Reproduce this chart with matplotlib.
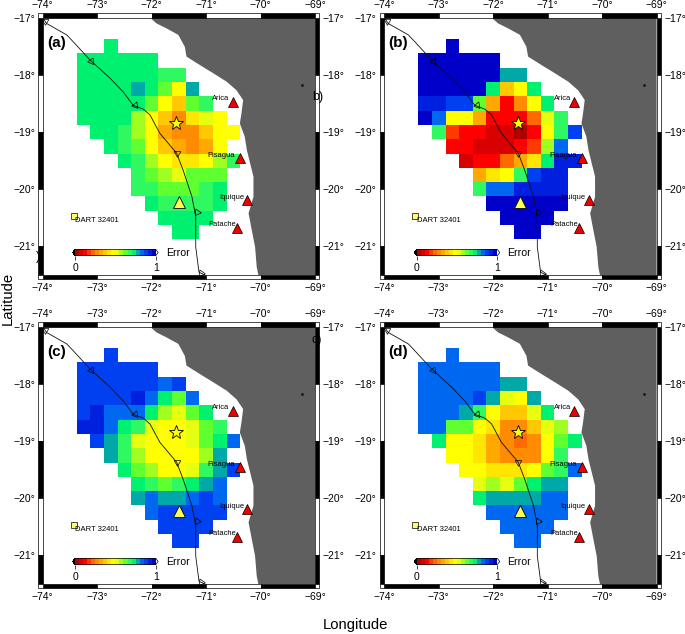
import numpy as np
import matplotlib
matplotlib.use('Agg')
import matplotlib.pyplot as plt
from matplotlib.colors import ListedColormap, BoundaryNorm
from matplotlib.patches import Rectangle, Polygon
from matplotlib.cm import ScalarMappable
from matplotlib.ticker import NullLocator

plt.rcParams['font.family'] = ['Liberation Sans', 'DejaVu Sans']

# first column of each row of the grid
first_col = [2, 0, 0, 0, 0, 0, 1, 2, 3, 4, 4, 5, 6, 7]

error_a = [
    [.72],
    [.72, .72, .72, .72, .72, .72],
    [.72, .72, .72, .72, .72, .72, .67, .67],
    [.72, .72, .72, .72, .77, .72, .62, .47, .77],
    [.72, .72, .72, .72, .72, .62, .47, .37, .62, .67],
    [.72, .72, .72, .72, .57, .47, .37, .27, .42, .52, .47],
    [.72, .72, .67, .57, .47, .32, .27, .27, .37, .47, .47],
    [.72, .67, .62, .47, .37, .32, .27, .32, .47],
    [.72, .67, .57, .47, .42, .42, .47, .57, .67],
    [.67, .62, .57, .52, .62, .62, .62],
    [.67, .67, .62, .62, .62, .67, .72],
    [.72, .67, .67, .67, .67, .72],
    [.72, .72, .72, .72],
    [.72, .72],
]
error_b = [
    [.97],
    [.97, .97, .97, .97, .97, .97],
    [.97, .97, .97, .97, .97, .97, .77, .77],
    [.97, .97, .97, .97, .97, .72, .37, .47, .72],
    [.92, .92, .87, .87, .62, .32, .12, .27, .47, .72],
    [.97, .82, .47, .47, .32, .12, .12, .12, .22, .52, .67],
    [.67, .17, .12, .12, .07, .07, .02, .12, .47, .67, .87],
    [.12, .12, .07, .07, .07, .12, .17, .57, .82],
    [.07, .12, .12, .22, .32, .42, .72, .92, .92],
    [.32, .42, .47, .67, .87, .92, .92],
    [.67, .82, .82, .92, .92, .92, .92],
    [.97, .97, .97, .97, .97, .97],
    [.97, .97, .97, .97],
    [.97, .97],
]
error_c = [
    [.87],
    [.87, .87, .87, .87, .87, .87],
    [.87, .87, .87, .87, .87, .87, .82, .87],
    [.87, .87, .87, .87, .92, .82, .72, .62, .82],
    [.87, .92, .82, .82, .82, .72, .57, .52, .62, .72],
    [.92, .92, .82, .72, .67, .52, .47, .47, .52, .62, .67],
    [.87, .77, .67, .52, .47, .47, .47, .52, .62, .72, .82],
    [.77, .67, .57, .47, .47, .47, .47, .57, .77],
    [.72, .62, .57, .47, .47, .52, .67, .77, .87],
    [.72, .67, .62, .67, .72, .77, .82],
    [.77, .82, .77, .77, .82, .87, .82],
    [.82, .87, .87, .87, .87, .87],
    [.87, .87, .87, .87],
    [.87, .87],
]
error_d = [
    [.82],
    [.82, .82, .82, .82, .82, .82],
    [.82, .82, .82, .82, .82, .82, .77, .77],
    [.82, .82, .82, .82, .87, .77, .52, .47, .77],
    [.82, .82, .82, .77, .67, .47, .37, .37, .52, .72],
    [.82, .82, .62, .62, .47, .42, .27, .27, .37, .52, .57],
    [.72, .47, .47, .42, .32, .27, .22, .27, .47, .62, .72],
    [.47, .47, .42, .32, .27, .27, .27, .47, .67],
    [.47, .47, .42, .42, .42, .47, .62, .67, .82],
    [.52, .57, .52, .62, .72, .77, .77],
    [.72, .77, .77, .77, .77, .82, .82],
    [.82, .82, .82, .82, .82, .82],
    [.82, .82, .82, .82],
    [.82, .82],
]

panels = ['(a)', '(b)', '(c)', '(d)']
grids = [error_a, error_b, error_c, error_d]

level_colors = ['#b00000', '#d80000', '#ff0000', '#ff3a00', '#ff6a00',
                '#ff8c00', '#ffa800', '#ffc800', '#ffe600', '#ffff00',
                '#e6ff10', '#a0ff20', '#60ff30', '#30f860', '#00f070',
                '#00a8a8', '#0068f0', '#0040f0', '#0020e0', '#0000c8']

coast_lon = [-72.03, -71.91, -71.72, -71.51, -71.39, -71.36, -71.11, -70.87, -70.62, -70.44,
             -70.32, -70.35, -70.38, -70.29, -70.25, -70.19, -70.13, -70.13, -70.22, -70.16,
             -70.10, -70.07, -70.04]
coast_lat = [-17.0, -17.10, -17.19, -17.30, -17.51, -17.68, -17.83, -17.97, -18.12, -18.27,
             -18.44, -18.67, -18.85, -19.08, -19.32, -19.55, -19.78, -20.13, -20.42, -20.72,
             -21.01, -21.36, -21.50]

trench_lon = [-74, -73.93, -73.56, -73.44, -73.13, -72.76, -72.52, -72.34, -72.15, -72.03,
              -71.85, -71.54, -71.42, -71.26, -71.19, -71.19, -71.13, -71.02]
trench_lat = [-17, -17.10, -17.30, -17.42, -17.74, -18.06, -18.30, -18.53, -18.60, -18.70,
              -19.02, -19.37, -19.67, -20.13, -20.48, -21.01, -21.45, -21.50]

teeth_lon = [-73.11, -72.30, -71.54, -71.17, -71.10, -73.95]
teeth_lat = [-17.75, -18.53, -19.36, -20.40, -21.47, -17.05]
teeth_ang = [95, 100, 180, 265, 265, 180]

cities = ['Arica', 'Pisagua', 'Iquique', 'Patache']
city_lon = [-70.51, -70.37, -70.24, -70.43]
city_lat = [-18.47, -19.46, -20.18, -20.67]
city_text_lon = [-70.73, -70.72, -70.53, -70.70]
city_text_lat = [-18.42, -19.41, -20.14, -20.62]

star_lon, star_lat = -71.55, -18.84
tri_lon, tri_lat = -71.50, -20.22
dart_lon, dart_lat = -73.43, -20.46

lons = [-74, -73, -72, -71, -70, -69]
lats = [-17, -18, -19, -20, -21]

cmap = ListedColormap(level_colors)
cmap.set_under('black')
cmap.set_over('white')
norm = BoundaryNorm(np.linspace(0, 1, 21), 20)
lon_edges = -73.375 + 0.25 * np.arange(13)
lat_edges = -17.375 - 0.25 * np.arange(15)

W, H = 685, 634
fig = plt.figure(figsize=(W / 100, H / 100), dpi=100)


def frame(ax):
    dx, dy = 0.08, 0.076
    xs = [-74, -73, -72, -71, -70, -69]
    ys = [-17, -18, -19, -20, -21, -21.5]
    for side_y in (-17, -21.5 - dy):
        for i in range(5):
            col = 'black' if i % 2 == 0 else 'white'
            ax.add_patch(Rectangle((xs[i], side_y), xs[i + 1] - xs[i], dy, fc=col, ec='black', lw=0.5, clip_on=False))
    for side_x in (-74 - dx, -69):
        for i in range(5):
            col = 'black' if i % 2 == 0 else 'white'
            ax.add_patch(Rectangle((side_x, ys[i + 1]), dx, ys[i] - ys[i + 1], fc=col, ec='black', lw=0.5, clip_on=False))
    for cx in (-74 - dx, -69):
        for cy in (-17, -21.5 - dy):
            ax.add_patch(Rectangle((cx, cy), dx, dy, fc='white', ec='black', lw=0.5, clip_on=False))


def draw_panel(pos, name, rows):
    x0, y0 = pos
    ax = fig.add_axes([x0 / W, 1 - (y0 + 257.4) / H, 272.3 / W, 257.4 / H])
    ax.set_xlim(-74, -69)
    ax.set_ylim(-21.5, -17)

    land = list(zip(coast_lon, coast_lat)) + [(-69, -21.5), (-69, -17)]
    ax.add_patch(Polygon(land, fc='#5f5f5f', ec='none', zorder=1))
    ax.plot([-69.24], [-18.18], 'o', ms=1.2, color='#222222', zorder=2)

    grid = np.full((14, 12), np.nan)
    for i, row in enumerate(rows):
        grid[i, first_col[i]:first_col[i] + len(row)] = row
    ax.pcolormesh(lon_edges, lat_edges, np.ma.masked_invalid(grid), cmap=cmap, norm=norm, zorder=2)

    ax.plot(trench_lon, trench_lat, color='#111111', lw=0.6, zorder=3)
    for lo, la, ang in zip(teeth_lon, teeth_lat, teeth_ang):
        ax.plot([lo], [la], marker=(3, 0, ang), ms=5.5, mfc='none', mec='black', mew=0.5, zorder=3)

    ax.plot(city_lon, city_lat, '^', ms=7.2, mfc='#ee0000', mec='black', mew=0.5, ls='none', zorder=4)
    for c, lo, la in zip(cities, city_text_lon, city_text_lat):
        ax.text(lo, la, c, fontsize=5.4, ha='center', va='center', zorder=5)
    ax.plot([tri_lon], [tri_lat], '^', ms=8.6, mfc='#ffff55', mec='black', mew=0.6, zorder=4)
    ax.plot([star_lon], [star_lat], '*', ms=10.5, mfc='#ffff00', mec='black', mew=0.6, zorder=4)
    ax.plot([dart_lon], [dart_lat], 's', ms=4.5, mfc='#ffff66', mec='black', mew=0.5, zorder=4)
    ax.text(dart_lon + 0.03, dart_lat - 0.08, 'DART 32401', fontsize=5.5, va='center', zorder=5)
    ax.text(-73.74, -17.45, name, fontsize=11, fontweight='bold', ha='center', va='center', zorder=5)

    ax.set_xticks(lons)
    ax.set_yticks(lats)
    ax.set_xticklabels(['\u2212%d\u00b0' % abs(v) for v in lons])
    ax.set_yticklabels(['\u2212%d\u00b0' % abs(v) for v in lats])
    ax.tick_params(length=0, labelsize=7.5, pad=5.5, top=True, right=True, labeltop=True, labelright=True)
    for s in ax.spines.values():
        s.set_visible(False)
    frame(ax)

    cax = ax.inset_axes([-73.45, -21.16, 1.57, 0.11], transform=ax.transData, zorder=6)
    cb = fig.colorbar(ScalarMappable(norm=norm, cmap=cmap), cax=cax, orientation='horizontal',
                      extend='both', extendfrac=0.03, ticks=[0, 1], spacing='proportional', drawedges=False)
    cb.outline.set_linewidth(0.5)
    cb.ax.set_xticks([0, 1], labels=['0', '1'], minor=False)
    cb.ax.xaxis.set_minor_locator(NullLocator())
    cb.ax.tick_params(labelsize=7.5, length=3, width=0.5, pad=2)
    ax.text(-71.74, -21.11, 'Error', fontsize=7.6, va='center', zorder=6)


draw_panel((42.7, 17.7), panels[0], grids[0])
draw_panel((384.3, 17.7), panels[1], grids[1])
draw_panel((42.7, 326.7), panels[2], grids[2])
draw_panel((384.3, 326.7), panels[3], grids[3])

fig.text(355 / W, 1 - 625 / H, 'Longitude', fontsize=10.7, ha='center', va='center')
fig.text(8 / W, 1 - 298 / H, 'Latitude', fontsize=10.7, rotation=90, ha='center', va='center')
fig.text(318 / W, 1 - 97 / H, 'b)', fontsize=9, ha='center', va='center')
fig.text(38 / W, 1 - 257 / H, ')', fontsize=9, ha='center', va='center')
fig.text(317 / W, 1 - 340 / H, 'c)', fontsize=9, ha='center', va='center')

fig.savefig('out.png', dpi=100)
